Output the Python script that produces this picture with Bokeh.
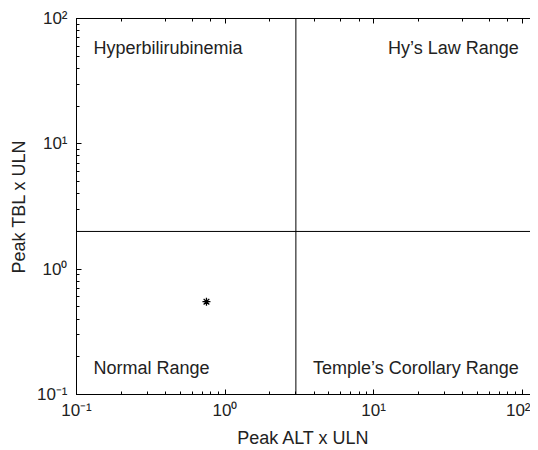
from bokeh.plotting import figure
from bokeh.models import Range1d, Span, LogAxis, Label
from bokeh.embed import file_html
from bokeh.resources import INLINE

# data
alt_peak = [0.75]
tbl_peak = [0.55]
alt_threshold = 3
tbl_threshold = 2
region_labels = ["Hyperbilirubinemia", "Hy\u2019s Law Range", "Normal Range", "Temple\u2019s Corollary Range"]
x_ticks = [0.1, 1, 10, 100]
x_tick_labels = ["10\u207b\u00b9", "10\u2070", "10\u00b9", "10\u00b2"]
y_ticks = [0.1, 1, 10, 100]
y_tick_labels = ["10\u207b\u00b9", "10\u2070", "10\u00b9", "10\u00b2"]
x_title = "Peak ALT x ULN"
y_title = "Peak TBL x ULN"

FONT = "Liberation Sans"
TXT = "#222222"

p = figure(width=530, height=450, x_axis_type="log", y_axis_type="log",
           x_range=Range1d(0.1, 114), y_range=Range1d(0.1, 100),
           output_backend="svg", toolbar_location=None,
           min_border_left=76, min_border_right=0, min_border_top=18, min_border_bottom=56)
p.outline_line_color = None
p.grid.visible = False
p.background_fill_color = "white"
p.border_fill_color = "white"

for ax in (p.xaxis[0], p.yaxis[0]):
    ax.major_tick_in = 5
    ax.major_tick_out = 0
    ax.minor_tick_in = 3
    ax.minor_tick_out = 0
    ax.axis_line_color = "black"
    ax.major_tick_line_color = "black"
    ax.minor_tick_line_color = "black"
    ax.major_label_text_font = FONT
    ax.major_label_text_font_size = "17px"
    ax.major_label_text_color = TXT
    ax.axis_label_text_font = FONT
    ax.axis_label_text_font_size = "18px"
    ax.axis_label_text_font_style = "normal"
    ax.axis_label_text_color = TXT

p.xaxis[0].major_label_overrides = {t: l for t, l in zip(x_ticks, x_tick_labels)}
p.yaxis[0].major_label_overrides = {t: l for t, l in zip(y_ticks, y_tick_labels)}
p.xaxis[0].major_label_standoff = 6
p.yaxis[0].major_label_standoff = 9
p.xaxis[0].axis_label = x_title
p.xaxis[0].axis_label_standoff = 5
p.yaxis[0].axis_label = y_title
p.yaxis[0].axis_label_standoff = 5

top = LogAxis(major_tick_in=5, major_tick_out=0, minor_tick_in=3, minor_tick_out=0,
              major_label_text_color=None, major_label_text_font_size="1px", major_label_standoff=0,
              axis_line_color="black", major_tick_line_color="black", minor_tick_line_color="black")
p.add_layout(top, "above")

p.add_layout(Span(location=alt_threshold, dimension="height", line_color="black", line_width=1))
p.add_layout(Span(location=tbl_threshold, dimension="width", line_color="black", line_width=1))

p.scatter(alt_peak, tbl_peak, marker="asterisk", size=8, line_color="black", line_width=1.3)

label_pos = [(0.13, 58, "left"), (95, 58, "right"), (0.13, 0.164, "left"), (95, 0.164, "right")]
for txt, (lx, ly, al) in zip(region_labels, label_pos):
    p.add_layout(Label(x=lx, y=ly, text=txt, text_align=al, text_baseline="alphabetic",
                       text_font=FONT, text_font_size="18px", text_color=TXT))

open("out.html", "w").write(file_html(p, INLINE))
